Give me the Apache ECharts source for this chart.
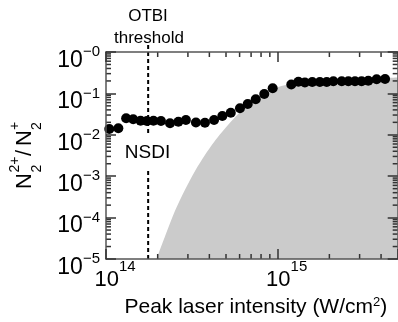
<!DOCTYPE html>
<html>
<head>
<meta charset="utf-8">
<script src="https://cdn.jsdelivr.net/npm/echarts@6/dist/echarts.min.js"></script>
<style>
  html, body { margin: 0; padding: 0; background: #fff; }
  #chart { width: 398px; height: 322px; }
</style>
</head>
<body>
<div id="chart"></div>
<script>
// axis ranges
const xMin = 1e14, xMax = 5e15;
const yMin = 1e-5, yMax = 1;
const otbiX = 1.76e14;

// measured N2(2+)/N2(+) ratio vs peak intensity
const intensity = [1.045e14, 1.18e14, 1.31e14, 1.44e14, 1.59e14, 1.73e14, 1.89e14, 2.09e14, 2.36e14, 2.64e14,
  2.92e14, 3.34e14, 3.77e14, 4.26e14, 4.76e14, 5.33e14, 6.03e14, 6.69e14, 7.45e14, 8.35e14,
  9.35e14, 1.20e15, 1.32e15, 1.44e15, 1.59e15, 1.76e15, 1.93e15, 2.11e15, 2.36e15, 2.58e15,
  2.82e15, 3.08e15, 3.37e15, 3.77e15, 4.22e15];
const ratio = [0.0138, 0.0144, 0.0251, 0.0237, 0.0219, 0.0215, 0.0219, 0.0215, 0.0190, 0.0207,
  0.0228, 0.0198, 0.0196, 0.0228, 0.0285, 0.0342, 0.0437, 0.0555, 0.072, 0.0968,
  0.133, 0.164, 0.192, 0.183, 0.188, 0.188, 0.188, 0.196, 0.196, 0.196,
  0.196, 0.196, 0.203, 0.219, 0.223];

// SDI (grey area) boundary
const sdiX = [1.97e14, 2.21e14, 2.52e14, 2.88e14, 3.30e14, 3.77e14, 4.26e14, 4.74e14, 6.03e14, 7.47e14,
  9.39e14, 1.18e15, 1.76e15, 3.02e15, 5e15];
const sdiY = [1e-5, 3.6e-5, 1.44e-4, 4.64e-4, 1.34e-3, 3.25e-3, 6.7e-3, 0.0117, 0.0356, 0.0774,
  0.128, 0.169, 0.205, 0.223, 0.242];

// tick labels
const xTickValues = [1e14, 1e15];
const xTickSup = ['14', '15'];
const yTickValues = [1e-5, 1e-4, 1e-3, 1e-2, 1e-1, 1];
const yTickSup = ['\u22125', '\u22124', '\u22123', '\u22122', '\u22121', '\u22120'];

// minor ticks
const xMinor = [2e14, 3e14, 4e14, 5e14, 6e14, 7e14, 8e14, 9e14, 2e15, 3e15, 4e15];
const mantissa = [2, 3, 4, 5, 6, 7, 8, 9];
const decades = [1e-5, 1e-4, 1e-3, 1e-2, 1e-1];
const yMinor = [];
decades.forEach(d => mantissa.forEach(m => yMinor.push(m * d)));

const FONT = '"Liberation Sans", Arial, Helvetica, sans-serif';
const AXIS_COLOR = '#555';
const TICK_COLOR = '#333';

function findLabel(values, labels, v) {
  for (let i = 0; i < values.length; i++) {
    if (Math.abs(Math.log10(v) - Math.log10(values[i])) < 1e-6) return labels[i];
  }
  return null;
}

const chart = echarts.init(document.getElementById('chart'));

const axisLine = { show: true, lineStyle: { color: AXIS_COLOR, width: 1.5 } };
const axisTick = { show: true, inside: true, length: 10, lineStyle: { color: TICK_COLOR, width: 1.5 } };

chart.setOption({
  animation: false,
  textStyle: { fontFamily: FONT },
  grid: { left: 106, top: 52, width: 291.7, height: 207, containLabel: false, outerBoundsMode: 'none' },
  xAxis: [
    {
      type: 'log', logBase: 10, min: xMin, max: xMax, position: 'bottom', z: 10,
      axisLine: axisLine, axisTick: axisTick, splitLine: { show: false },
      axisLabel: {
        margin: 0,
        padding: [0, 0, 0, 18],
        formatter: v => {
          const s = findLabel(xTickValues, xTickSup, v);
          return s ? '{b|10}{s|' + s + '}' : '';
        },
        rich: {
          b: { fontSize: 22, fontFamily: FONT, color: '#000' },
          s: { fontSize: 15, fontFamily: FONT, color: '#000', padding: [0, 0, 26, 0] }
        }
      },
      name: 'Peak laser intensity (W/cm{s|2})',
      nameLocation: 'middle',
      nameGap: 37,
      nameTextStyle: {
        fontSize: 21, fontFamily: FONT, color: '#000', padding: [0, 0, 0, 8],
        rich: { s: { fontSize: 13, fontFamily: FONT, color: '#000', padding: [0, 0, 10, 0] } }
      }
    },
    {
      type: 'log', logBase: 10, min: xMin, max: xMax, position: 'top', z: 10,
      axisLine: axisLine, axisTick: axisTick, splitLine: { show: false },
      axisLabel: { show: false }
    }
  ],
  yAxis: [
    {
      type: 'log', logBase: 10, min: yMin, max: yMax, position: 'left', z: 10,
      axisLine: axisLine, axisTick: axisTick, splitLine: { show: false },
      axisLabel: {
        margin: 6,
        formatter: v => {
          const s = findLabel(yTickValues, yTickSup, v);
          return s ? '{b|10}{s|' + s + '}' : '';
        },
        rich: {
          b: { fontSize: 23, fontFamily: FONT, color: '#000', padding: [17, 0, 0, 0] },
          s: { fontSize: 15, fontFamily: FONT, color: '#000' }
        }
      }
    },
    {
      type: 'log', logBase: 10, min: yMin, max: yMax, position: 'right', z: 10,
      axisLine: axisLine, axisTick: axisTick, splitLine: { show: false },
      axisLabel: { show: false }
    }
  ],
  series: [
    {
      name: 'SDI',
      type: 'line',
      data: sdiX.map((x, i) => [x, sdiY[i]]),
      smooth: 0.3,
      symbol: 'none',
      lineStyle: { width: 0 },
      areaStyle: { color: '#cbcbcb', opacity: 1, origin: 'start' },
      z: 1,
      silent: true
    },
    {
      name: 'minor x',
      type: 'custom',
      data: xMinor.map(v => [v, 0.1]),
      silent: true,
      z: 6,
      renderItem: (params, api) => {
        const cs = params.coordSys;
        const px = api.coord([api.value(0), 0.1])[0];
        const bottom = cs.y + cs.height;
        return {
          type: 'group', children: [
            { type: 'line', shape: { x1: px, y1: bottom, x2: px, y2: bottom - 5 }, style: { stroke: TICK_COLOR, lineWidth: 1.5 } },
            { type: 'line', shape: { x1: px, y1: cs.y, x2: px, y2: cs.y + 5 }, style: { stroke: TICK_COLOR, lineWidth: 1.5 } }
          ]
        };
      }
    },
    {
      name: 'minor y',
      type: 'custom',
      data: yMinor.map(v => [1e15, v]),
      silent: true,
      z: 6,
      renderItem: (params, api) => {
        const cs = params.coordSys;
        const py = api.coord([1e15, api.value(1)])[1];
        const right = cs.x + cs.width;
        return {
          type: 'group', children: [
            { type: 'line', shape: { x1: cs.x, y1: py, x2: cs.x + 5, y2: py }, style: { stroke: TICK_COLOR, lineWidth: 1.5 } },
            { type: 'line', shape: { x1: right, y1: py, x2: right - 5, y2: py }, style: { stroke: TICK_COLOR, lineWidth: 1.5 } }
          ]
        };
      }
    },
    {
      name: 'OTBI threshold',
      type: 'custom',
      data: [[otbiX, yMin]],
      clip: false,
      silent: true,
      z: 4,
      renderItem: (params, api) => {
        const b = api.coord([api.value(0), yMin]);
        const t = api.coord([api.value(0), yMax]);
        return {
          type: 'line',
          shape: { x1: b[0], y1: b[1], x2: t[0], y2: t[1] - 8 },
          style: { stroke: '#000', lineWidth: 2, lineDash: [4, 3] }
        };
      }
    },
    {
      name: 'ratio',
      type: 'scatter',
      data: intensity.map((x, i) => [x, ratio[i]]),
      symbol: 'circle',
      symbolSize: 10,
      itemStyle: { color: '#000', opacity: 1 },
      z: 5
    }
  ],
  graphic: [
    { type: 'text', x: 148, y: 16, style: { text: 'OTBI', fontSize: 17, fontFamily: FONT, fill: '#000', align: 'center', verticalAlign: 'middle' } },
    { type: 'text', x: 149, y: 38, style: { text: 'threshold', fontSize: 17, fontFamily: FONT, fill: '#000', align: 'center', verticalAlign: 'middle' } },
    { type: 'text', x: 147.5, y: 153, z: 100, style: { text: 'NSDI', fontSize: 19, fontFamily: FONT, fill: '#000', align: 'center', verticalAlign: 'middle', backgroundColor: '#fff', padding: [8, 0, 8, 0] } },
    { type: 'text', x: 291, y: 157, style: { text: 'SDI', fontSize: 19, fontFamily: FONT, fill: '#000', align: 'center', verticalAlign: 'middle' } },
    {
      type: 'group', x: 25, y: 189, rotation: Math.PI / 2,
      children: [
        { type: 'text', x: 0, y: 0, style: { text: 'N', fontSize: 22, fontFamily: FONT, fill: '#000', align: 'left', verticalAlign: 'middle' } },
        { type: 'text', x: 16.5, y: -10, style: { text: '2+', fontSize: 14, fontFamily: FONT, fill: '#000', align: 'left', verticalAlign: 'middle' } },
        { type: 'text', x: 16.5, y: 12, style: { text: '2', fontSize: 14, fontFamily: FONT, fill: '#000', align: 'left', verticalAlign: 'middle' } },
        { type: 'text', x: 33, y: 0, style: { text: '/', fontSize: 22, fontFamily: FONT, fill: '#000', align: 'left', verticalAlign: 'middle' } },
        { type: 'text', x: 43, y: 0, style: { text: 'N', fontSize: 22, fontFamily: FONT, fill: '#000', align: 'left', verticalAlign: 'middle' } },
        { type: 'text', x: 59, y: -10, style: { text: '+', fontSize: 14, fontFamily: FONT, fill: '#000', align: 'left', verticalAlign: 'middle' } },
        { type: 'text', x: 59, y: 12, style: { text: '2', fontSize: 14, fontFamily: FONT, fill: '#000', align: 'left', verticalAlign: 'middle' } }
      ]
    }
  ]
});
</script>
</body>
</html>
